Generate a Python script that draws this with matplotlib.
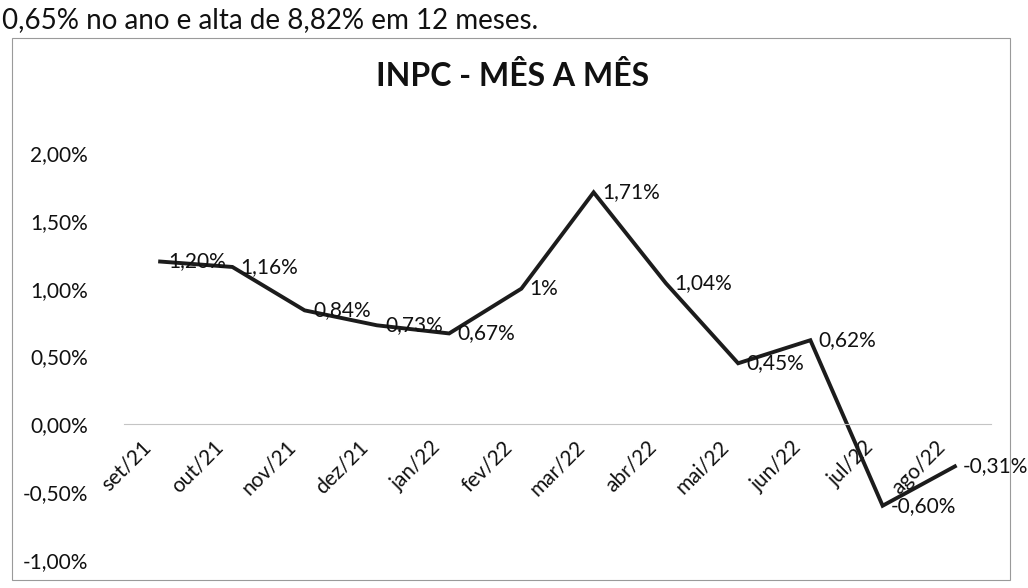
import matplotlib
matplotlib.use("Agg")
import matplotlib.pyplot as plt
import matplotlib.patches as mpatches
import matplotlib.transforms as mtransforms
from matplotlib.ticker import FuncFormatter

# ── Data ──────────────────────────────────────────────────────────────────────
months = ["set/21", "out/21", "nov/21", "dez/21", "jan/22", "fev/22",
          "mar/22", "abr/22", "mai/22", "jun/22", "jul/22", "ago/22"]
inpc = [1.20, 1.16, 0.84, 0.73, 0.67, 1.00,
        1.71, 1.04, 0.45, 0.62, -0.60, -0.31]

title = "INPC - MÊS A MÊS"
caption = "0,65% no ano e alta de 8,82% em 12 meses."


def pct_br(v, decimals=2):
    s = f"{v:.{decimals}f}".replace(".", ",")
    return s + "%"


def label_br(v):
    return pct_br(v).replace(",00%", "%")


plt.rcParams["font.family"] = ["Lato", "DejaVu Sans"]

W, H = 1028, 588
fig = plt.figure(figsize=(W / 100, H / 100), dpi=100)
fig.patch.set_facecolor("white")

# frame round the chart
fig.add_artist(mpatches.Rectangle(
    (12 / W, 1 - 580 / H), 998 / W, 542 / H,
    transform=fig.transFigure, fill=False, edgecolor="#9a9a9a", linewidth=0.8,
))

# text line above the chart
fig.text(2 / W, 1 - 20 / H, caption, fontsize=20, color="#111111",
         ha="left", va="center")

fig.text(513 / W, 1 - 76 / H, title, fontsize=23, fontweight="bold",
         color="#111111", ha="center", va="center")

ax = fig.add_axes([124 / W, 1 - 560 / H, (991 - 124) / W, (560 - 153) / H])

# spine first: moving it resets the tick labels
for side in ["top", "right", "left"]:
    ax.spines[side].set_visible(False)
ax.spines["bottom"].set_position(("data", 0))
ax.spines["bottom"].set_color("#c4c4c4")
ax.spines["bottom"].set_linewidth(0.8)
ax.set_facecolor("none")

x = list(range(len(months)))
ax.plot(x, inpc, color="#1c1c1c", linewidth=2.8, solid_joinstyle="miter")

for xi, v in zip(x, inpc):
    ax.annotate(label_br(v), (xi, v), xytext=(6, 0), textcoords="offset points",
                ha="left", va="center", fontsize=15, color="#111111")

ax.set_xlim(-0.5, len(months) - 0.5)
ax.set_ylim(-1.0, 2.0)
ax.set_yticks([-1.0, -0.5, 0.0, 0.5, 1.0, 1.5, 2.0])
ax.yaxis.set_major_formatter(FuncFormatter(lambda v, _: pct_br(v)))
ax.tick_params(axis="y", length=0, pad=26, labelsize=15, labelcolor="#111111")

ax.set_xticks(x)
ax.tick_params(axis="x", length=0, pad=14)
ax.set_xticklabels(months, fontsize=15, color="#111111")
shift = mtransforms.ScaledTranslation(-12 / 100, 0, fig.dpi_scale_trans)
for lab in ax.get_xticklabels():
    lab.set_rotation(45)
    lab.set_rotation_mode("anchor")
    lab.set_ha("right")
    lab.set_va("center")
    lab.set_transform(lab.get_transform() + shift)

fig.savefig("out.png", dpi=100)
